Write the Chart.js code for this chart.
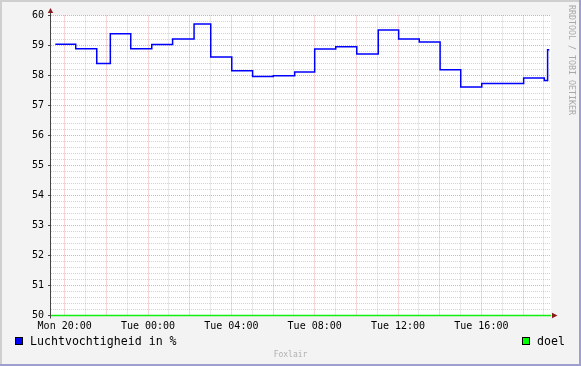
<!DOCTYPE html>
<html><head><meta charset="utf-8">
<script src="https://cdn.jsdelivr.net/npm/chart.js@4"></script>
<style>
html,body{margin:0;padding:0;background:#f3f3f3;}
#wrap{position:relative;width:581px;height:366px;overflow:hidden;background:#f3f3f3;}
canvas{position:absolute;left:0;top:0;}
.txt{position:absolute;font-family:'DejaVu Sans Mono',monospace;white-space:nowrap;}
.box{position:absolute;width:8px;height:8px;box-sizing:border-box;border:1px solid #000;}
.bd{position:absolute;}
</style></head><body>
<div id="wrap">
<canvas id="c" width="581" height="366"></canvas>
<div class="bd" style="left:0;top:0;width:581px;height:2px;background:#cfcfcf"></div>
<div class="bd" style="left:0;top:0;width:2px;height:366px;background:#cfcfcf"></div>
<div class="bd" style="left:0;top:364px;width:581px;height:2px;background:#9e9ecf"></div>
<div class="bd" style="left:579px;top:0;width:2px;height:366px;background:#9e9ecf"></div>
<div class="box" style="left:15px;top:337px;background:#0000ff"></div>
<div class="txt" id="lg1" style="left:30px;top:336px;font-size:11.6px;line-height:11.6px;color:#000"></div>
<div class="box" style="left:522px;top:337px;background:#00ff00"></div>
<div class="txt" id="lg2" style="left:537px;top:336px;font-size:11.6px;line-height:11.6px;color:#000"></div>
<div class="txt" id="foot" style="left:0;width:581px;text-align:center;top:350.7px;font-size:8px;line-height:8px;color:#b0b0b0"></div>
<div class="txt" id="wm" style="left:576px;top:5px;font-size:8.3px;line-height:8.3px;color:#a8a8a8;transform:rotate(90deg);transform-origin:0 0"></div>
</div>
<script>
// ---- data ----
const seriesNames = ['Luchtvochtigheid in %', 'doel'];
const stepHours = [19.55, 20.53, 21.54, 22.19, 23.17, 24.18, 25.18, 26.21, 27.01, 28.02, 29.02, 30.01, 31.04, 32.00, 33.01, 34.02, 35.05, 36.03, 37.02, 38.02, 39.01, 40.02, 42.03, 43.02, 43.18, 43.26];
const humidity  = [59.04, 58.89, 58.40, 59.39, 58.89, 59.03, 59.22, 59.72, 58.62, 58.16, 57.97, 57.99, 58.12, 58.88, 58.96, 58.72, 59.52, 59.22, 59.12, 58.19, 57.62, 57.73, 57.92, 57.83, 58.86, 58.86];
const doelHours = [19.343, 43.343];
const doelValues = [50, 50];
const xTickHours = [20, 24, 28, 32, 36, 40];
const xTickLabels = ['Mon 20:00', 'Tue 00:00', 'Tue 04:00', 'Tue 08:00', 'Tue 12:00', 'Tue 16:00'];
const yMin = 50, yMax = 60;
const footerText = 'Foxlair';
const watermark = 'RRDTOOL / TOBI OETIKER';

document.getElementById('lg1').textContent = seriesNames[0];
document.getElementById('lg2').textContent = seriesNames[1];
document.getElementById('foot').textContent = footerText;
document.getElementById('wm').textContent = watermark;

const minorGrid = 'rgba(150,150,150,0.42)';
const majorGrid = 'rgba(215,90,90,0.5)';
const isInt = v => Math.abs(v - Math.round(v)) < 1e-6;

const framePlugin = {
  id: 'frame',
  beforeDraw(chart) {
    const {ctx, chartArea: a} = chart;
    ctx.save();
    ctx.fillStyle = '#ffffff';
    ctx.fillRect(a.left, a.top, a.right - a.left, a.bottom - a.top);
    ctx.restore();
  },
  beforeDatasetsDraw(chart) {
    const {ctx, chartArea: a} = chart;
    const yb = Math.floor(a.bottom) + 0.5;
    ctx.save();
    ctx.strokeStyle = '#444';
    ctx.lineWidth = 1;
    ctx.beginPath();
    ctx.moveTo(a.left - 0.5, a.bottom + 3);
    ctx.lineTo(a.left - 0.5, a.top - 3);
    ctx.moveTo(a.left - 3, yb);
    ctx.lineTo(a.left, yb);
    ctx.stroke();
    ctx.restore();
  },
  afterDraw(chart) {
    const {ctx, chartArea: a} = chart;
    ctx.save();
    ctx.fillStyle = '#8b1a1a';
    const x = a.left - 0.5, yb = Math.floor(a.bottom) + 0.5;
    ctx.beginPath();
    ctx.moveTo(x - 2.7, a.top - 2.5);
    ctx.lineTo(x + 2.7, a.top - 2.5);
    ctx.lineTo(x, a.top - 7.5);
    ctx.closePath(); ctx.fill();
    ctx.beginPath();
    ctx.moveTo(a.right + 1, yb - 2.7);
    ctx.lineTo(a.right + 1, yb + 2.7);
    ctx.lineTo(a.right + 6.5, yb);
    ctx.closePath(); ctx.fill();
    ctx.restore();
  }
};

new Chart(document.getElementById('c'), {
  type: 'line',
  data: {
    datasets: [
      {
        label: seriesNames[1],
        data: doelHours.map((h, i) => ({x: h, y: doelValues[i]})),
        borderColor: '#11ee11', borderWidth: 1.5, pointRadius: 0, clip: false, order: 2
      },
      {
        label: seriesNames[0],
        data: stepHours.map((h, i) => ({x: h, y: humidity[i]})),
        borderColor: '#0000ff', borderWidth: 1.5, pointRadius: 0, stepped: 'before', order: 1
      }
    ]
  },
  options: {
    responsive: false, animation: false, devicePixelRatio: 1,
    layout: {padding: {left: 0, top: 15.5, right: 30, bottom: 0}},
    plugins: {legend: {display: false}, tooltip: {enabled: false}},
    scales: {
      x: {
        type: 'linear', min: doelHours[0], max: doelHours[1],
        afterFit: s => { s.height = 50.5; },
        afterBuildTicks: s => {
          const t = [];
          for (let h = Math.ceil(s.min); h <= Math.floor(s.max); h++) t.push({value: h});
          s.ticks = t;
        },
        ticks: {
          autoSkip: false, maxRotation: 0, padding: 1.5,
          color: '#000', font: {family: 'DejaVu Sans Mono', size: 10},
          callback: v => { const i = xTickHours.indexOf(Math.round(v)); return i >= 0 ? xTickLabels[i] : ''; }
        },
        grid: {
          color: c => (c.tick && Math.round(c.tick.value) % 2 === 0) ? majorGrid : minorGrid,
          lineWidth: 1, tickLength: 3, tickColor: 'rgba(0,0,0,0)'
        },
        border: {display: false, dash: [1, 1]}
      },
      y: {
        min: yMin, max: yMax,
        afterFit: s => { s.width = 51; },
        ticks: {
          stepSize: 0.2, autoSkip: false, padding: 4,
          color: '#000', font: {family: 'DejaVu Sans Mono', size: 10},
          callback: v => isInt(v) ? String(Math.round(v)) : ''
        },
        grid: {
          color: c => (c.tick && isInt(c.tick.value)) ? majorGrid : minorGrid,
          lineWidth: 1, tickLength: 3,
          tickColor: c => (c.tick && isInt(c.tick.value)) ? '#444' : 'rgba(0,0,0,0)'
        },
        border: {display: false, dash: [1, 1]}
      }
    }
  },
  plugins: [framePlugin]
});
</script>
</body></html>
